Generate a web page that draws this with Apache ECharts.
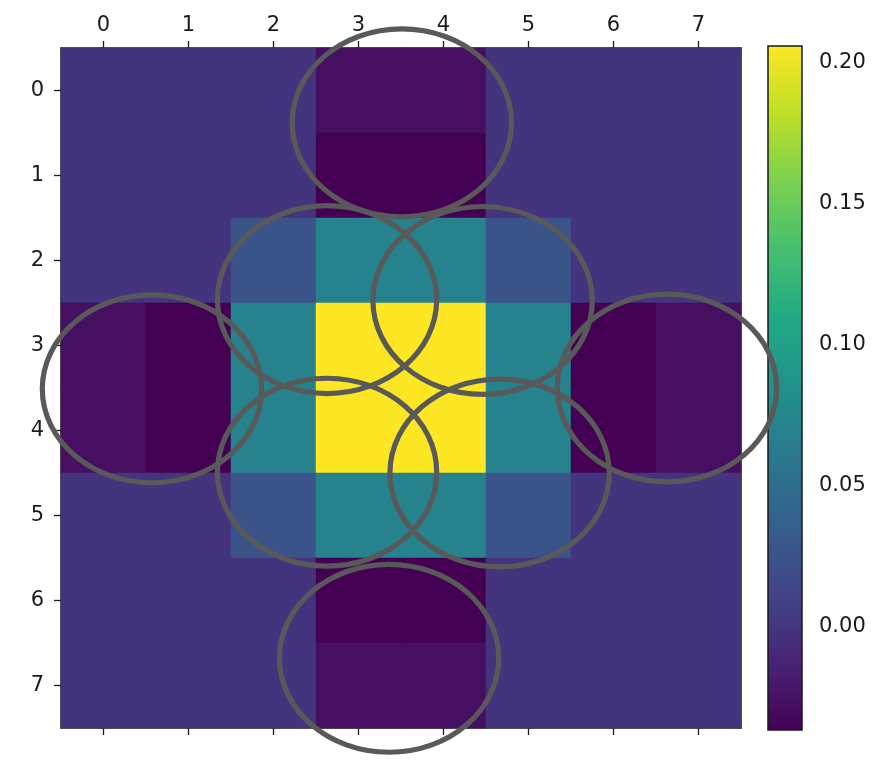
<!DOCTYPE html>
<html>
<head>
<meta charset="utf-8">
<script src="https://cdn.jsdelivr.net/npm/echarts@6/dist/echarts.min.js"></script>
<style>html,body{margin:0;padding:0;background:#fff;}#c{width:881px;height:763px;}</style>
</head>
<body>
<div id="c"></div>
<script>
// ---- data ----
const xCategories = ['0','1','2','3','4','5','6','7'];
const yCategories = ['0','1','2','3','4','5','6','7'];
// matrix values, row by row (row 0 at top)
const row0 = [0.000, 0.000, 0.000, -0.027, -0.027, 0.000, 0.000, 0.000];
const row1 = [0.000, 0.000, 0.000, -0.0365, -0.0365, 0.000, 0.000, 0.000];
const row2 = [0.000, 0.000, 0.026, 0.070, 0.070, 0.026, 0.000, 0.000];
const row3 = [-0.027, -0.0365, 0.070, 0.2057, 0.2057, 0.070, -0.0365, -0.027];
const row4 = [-0.027, -0.0365, 0.070, 0.2057, 0.2057, 0.070, -0.0365, -0.027];
const row5 = [0.000, 0.000, 0.026, 0.070, 0.070, 0.026, 0.000, 0.000];
const row6 = [0.000, 0.000, 0.000, -0.0365, -0.0365, 0.000, 0.000, 0.000];
const row7 = [0.000, 0.000, 0.000, -0.027, -0.027, 0.000, 0.000, 0.000];
const rows = [row0, row1, row2, row3, row4, row5, row6, row7];
const colorMin = -0.0365;
const colorMax = 0.2057;
const colorbarTicks = [0.00, 0.05, 0.10, 0.15, 0.20];
// ellipse centres (column, row in data units)
const ellipseCols = [3.51, 0.57, 6.63, 3.36, 2.63, 4.46, 2.63, 4.66];
const ellipseRows = [0.38, 3.51, 3.50, 6.68, 2.46, 2.47, 4.49, 4.50];
const ellipseW = 2.58;
const ellipseH = 2.21;

const viridis = ['#440154','#482475','#414487','#355f8d','#2a788e','#21918c','#22a884','#44bf70','#7ad151','#bddf26','#fde725'];

const heatData = [];
rows.forEach((r, ri) => r.forEach((v, ci) => heatData.push([ci, ri, v])));
// dims 0,1 anchor on category axes; dims 2,3 carry the fractional centre
const ellipseData = ellipseCols.map((c, i) => [0, 0, c, ellipseRows[i]]);

const FONT = 'DejaVu Sans';
const TXT = '#1a1a1a';
const LINE = '#1a1a1a';

const chart = echarts.init(document.getElementById('c'), null, {renderer: 'canvas'});
const option = {
  animation: false,
  backgroundColor: '#fff',
  grid: [
    {left: 61, top: 48, width: 680, height: 680, containLabel: false},
    {left: 768, top: 46, width: 34, height: 684, containLabel: false}
  ],
  xAxis: [
    {type: 'category', data: xCategories, gridIndex: 0, position: 'top',
     axisLine: {show: true, onZero: false, lineStyle: {color: LINE, width: 1.5}},
     axisTick: {show: true, alignWithLabel: true, length: 7, lineStyle: {color: LINE, width: 1.3}},
     axisLabel: {show: true, margin: 12, fontFamily: FONT, fontSize: 21, color: TXT},
     splitLine: {show: false}},
    {type: 'category', data: xCategories, gridIndex: 0, position: 'bottom',
     axisLine: {show: true, onZero: false, lineStyle: {color: LINE, width: 1.5}},
     axisTick: {show: true, alignWithLabel: true, length: 7, lineStyle: {color: LINE, width: 1.3}},
     axisLabel: {show: false}, splitLine: {show: false}},
    {type: 'value', gridIndex: 1, min: 0, max: 1, show: false}
  ],
  yAxis: [
    {type: 'category', data: yCategories, gridIndex: 0, inverse: true, position: 'left',
     axisLine: {show: true, onZero: false, lineStyle: {color: LINE, width: 1.5}},
     axisTick: {show: true, alignWithLabel: true, length: 7, lineStyle: {color: LINE, width: 1.3}},
     axisLabel: {show: true, margin: 17, fontFamily: FONT, fontSize: 21, color: TXT},
     splitLine: {show: false}},
    {type: 'category', data: yCategories, gridIndex: 0, inverse: true, position: 'right',
     axisLine: {show: true, onZero: false, lineStyle: {color: LINE, width: 1.5}},
     axisTick: {show: false}, axisLabel: {show: false}, splitLine: {show: false}},
    {type: 'value', gridIndex: 1, min: colorMin, max: colorMax, position: 'right',
     axisLine: {show: false},
     axisTick: {show: true, length: 7, customValues: colorbarTicks, lineStyle: {color: LINE, width: 1.3}},
     axisLabel: {show: true, margin: 17, customValues: colorbarTicks, fontFamily: FONT, fontSize: 21, color: TXT,
                 formatter: v => v.toFixed(2)},
     splitLine: {show: false}}
  ],
  visualMap: {
    type: 'continuous', show: false, seriesIndex: 0, dimension: 2,
    min: colorMin, max: colorMax, inRange: {color: viridis}
  },
  series: [
    {type: 'heatmap', xAxisIndex: 0, yAxisIndex: 0, data: heatData,
     itemStyle: {borderWidth: 0}, emphasis: {disabled: true}, z: 1},
    {type: 'custom', xAxisIndex: 0, yAxisIndex: 0, data: ellipseData, z: 5, clip: false,
     encode: {x: 0, y: 1},
     renderItem: function (params, api) {
       const a = api.coord([0, 0]);
       const b = api.coord([1, 1]);
       const dx = b[0] - a[0], dy = b[1] - a[1];
       const col = api.value(2), row = api.value(3);
       return {
         type: 'ellipse',
         shape: {cx: a[0] + col * dx, cy: a[1] + row * dy,
                 rx: Math.abs(dx) * ellipseW / 2, ry: Math.abs(dy) * ellipseH / 2},
         style: {fill: null, stroke: '#595959', lineWidth: 5.2}
       };
     }},
    {type: 'custom', xAxisIndex: 2, yAxisIndex: 2, data: [[0, colorMin, 1, colorMax]], z: 2,
     renderItem: function (params, api) {
       const p1 = api.coord([api.value(0), api.value(3)]);
       const p2 = api.coord([api.value(2), api.value(1)]);
       const stops = viridis.map((col, i) => ({offset: 1 - i / (viridis.length - 1), color: col}));
       stops.reverse();
       return {
         type: 'rect',
         shape: {x: p1[0], y: p1[1], width: p2[0] - p1[0], height: p2[1] - p1[1]},
         style: {fill: new echarts.graphic.LinearGradient(0, 0, 0, 1, stops), stroke: LINE, lineWidth: 1.5}
       };
     }}
  ]
};
chart.setOption(option);
</script>
</body>
</html>
